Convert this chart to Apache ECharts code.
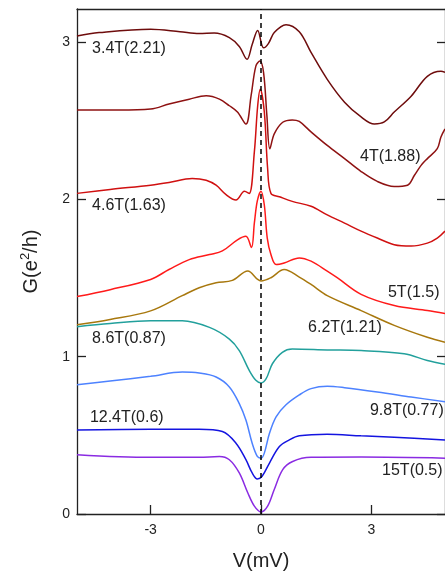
<!DOCTYPE html>
<html><head><meta charset="utf-8">
<script src="https://cdn.jsdelivr.net/npm/echarts@6/dist/echarts.min.js"></script>
<style>html,body{margin:0;padding:0;background:#fff}#c{width:445px;height:576px}</style>
</head><body><div id="c"></div>
<script>
// Curve names
const names = ['3.4T(2.21)','4T(1.88)','4.6T(1.63)','5T(1.5)','6.2T(1.21)','8.6T(0.87)','9.8T(0.77)','12.4T(0.6)','15T(0.5)'];
// Series values [V (mV), G (e^2/h)]
const c34 = [[-5.0,3.038],[-4.4,3.06],[-3.0,3.082],[-2.2,3.066],[-1.68,3.054],[-1.27,3.057],[-0.86,3.028],[-0.59,2.972],[-0.38,2.890],[-0.24,2.984],[-0.09,3.074],[0.07,2.963],[0.2,2.99],[0.36,3.060],[0.68,3.110],[1.04,3.065],[1.36,2.934],[1.8,2.763],[2.27,2.618],[2.72,2.524],[3.08,2.479],[3.35,2.492],[3.62,2.555],[4.08,2.656],[4.52,2.782],[4.89,2.814],[5.0,2.808]];
const c40 = [[-5.0,2.568],[-3.85,2.568],[-3.0,2.574],[-2.5,2.606],[-1.95,2.637],[-1.49,2.658],[-1.13,2.637],[-0.86,2.595],[-0.64,2.555],[-0.41,2.479],[-0.27,2.658],[-0.14,2.847],[-0.03,2.879],[0.07,2.806],[0.16,2.532],[0.24,2.322],[0.36,2.416],[0.59,2.490],[0.85,2.505],[1.04,2.495],[1.36,2.429],[1.8,2.343],[2.27,2.259],[2.72,2.177],[3.16,2.114],[3.62,2.082],[3.98,2.090],[4.17,2.153],[4.35,2.216],[4.52,2.259],[4.79,2.322],[4.89,2.397],[5.0,2.448]];
const c46 = [[-5.0,2.038],[-4.1,2.063],[-3.0,2.090],[-2.5,2.107],[-1.87,2.133],[-1.49,2.122],[-1.22,2.090],[-0.95,2.03],[-0.68,1.996],[-0.45,2.052],[-0.32,2.038],[-0.18,2.303],[-0.09,2.595],[-0.02,2.700],[0.09,2.555],[0.18,2.196],[0.27,2.038],[0.5,2.017],[0.85,1.987],[1.36,1.956],[1.8,1.901],[2.27,1.849],[2.72,1.798],[3.16,1.754],[3.62,1.712],[4.08,1.703],[4.52,1.722],[4.79,1.754],[5.0,1.798]];
const c50 = [[-5.0,1.382],[-4.1,1.426],[-3.0,1.491],[-2.5,1.554],[-1.95,1.617],[-1.4,1.649],[-1.05,1.672],[-0.64,1.743],[-0.41,1.765],[-0.26,1.694],[-0.18,1.85],[-0.10,1.99],[0.0,2.052],[0.09,1.964],[0.17,1.754],[0.27,1.649],[0.41,1.586],[0.63,1.596],[1.04,1.628],[1.36,1.607],[1.8,1.544],[2.07,1.502],[2.72,1.396],[3.62,1.325],[4.52,1.293],[5.0,1.274]];
const c62 = [[-5.0,1.203],[-4.1,1.237],[-3.0,1.291],[-2.14,1.388],[-1.68,1.438],[-1.22,1.470],[-0.78,1.485],[-0.36,1.544],[-0.09,1.491],[0.0,1.481],[0.27,1.502],[0.63,1.554],[1.04,1.506],[1.36,1.459],[1.8,1.388],[2.72,1.293],[3.62,1.199],[4.52,1.123],[5.0,1.091]];
const c86 = [[-5.0,1.191],[-4.1,1.211],[-3.0,1.228],[-2.14,1.228],[-1.4,1.186],[-0.86,1.112],[-0.59,1.039],[-0.32,0.913],[-0.14,0.850],[0.0,0.833],[0.14,0.860],[0.31,0.955],[0.58,1.028],[0.85,1.049],[1.8,1.043],[2.72,1.039],[3.89,1.018],[4.52,0.976],[5.0,0.951]];
const c98 = [[-5.0,0.822],[-4.1,0.845],[-3.0,0.875],[-2.14,0.902],[-1.68,0.896],[-1.22,0.871],[-0.86,0.808],[-0.59,0.702],[-0.41,0.597],[-0.24,0.450],[-0.10,0.366],[0.0,0.355],[0.09,0.387],[0.23,0.513],[0.41,0.618],[0.68,0.694],[1.04,0.757],[1.36,0.797],[1.8,0.812],[2.27,0.803],[3.16,0.776],[4.08,0.744],[5.0,0.713]];
const c124 = [[-5.0,0.534],[-3.0,0.538],[-1.68,0.538],[-1.05,0.524],[-0.68,0.450],[-0.41,0.345],[-0.24,0.261],[-0.10,0.223],[0.03,0.240],[0.23,0.324],[0.5,0.429],[0.77,0.471],[1.04,0.497],[1.8,0.507],[2.72,0.497],[3.62,0.488],[5.0,0.471]];
const c150 = [[-5.0,0.377],[-3.0,0.360],[-1.68,0.360],[-1.13,0.366],[-0.86,0.345],[-0.59,0.261],[-0.36,0.135],[-0.18,0.050],[0.0,0.013],[0.18,0.050],[0.36,0.156],[0.59,0.282],[0.86,0.334],[1.36,0.360],[2.72,0.362],[5.0,0.355]];
// Tick labels
const xTicks = [-3, 0, 3];
const yTicks = [0, 1, 2, 3];

const curves = [c34, c40, c46, c50, c62, c86, c98, c124, c150];
const colors = ['#6e0c0c','#8e1212','#d01010','#ff1a1a','#a8780e','#22a09c','#4d82ff','#1414e0','#8a2be2'];
// label anchor (data units) for each curve name
const labelPos = [[-4.59,2.96],[2.69,2.27],[-4.59,1.962],[3.45,1.407],[1.28,1.186],[-4.59,1.117],[2.96,0.656],[-4.65,0.612],[3.29,0.278]];

const font = 'Liberation Sans, Arial, sans-serif';
const series = curves.map((d, i) => ({
  type: 'line', data: d, showSymbol: false, smooth: 0.35, silent: true,
  lineStyle: { color: colors[i], width: 1.5 }, itemStyle: { color: colors[i] },
  markPoint: {
    symbol: 'circle', symbolSize: 0, silent: true,
    data: [{ coord: labelPos[i], name: names[i] }],
    label: { show: true, position: 'right', distance: 0, formatter: names[i], fontSize: 16, color: '#222', fontFamily: font }
  }
}));
series[0].markLine = {
  symbol: 'none', silent: true, label: { show: false },
  lineStyle: { color: '#000', type: [5, 4], width: 1.5 },
  data: [{ xAxis: 0 }]
};

const axisLine = { show: true, onZero: false, lineStyle: { color: '#222', width: 1.3 } };

const chart = echarts.init(document.getElementById('c'), null, { renderer: 'canvas' });
chart.setOption({
  animation: false,
  backgroundColor: '#fff',
  grid: { left: 77, right: -1, top: 9, bottom: 58 },
  xAxis: [
    {
      type: 'value', min: -5, max: 5, position: 'bottom', axisLine: axisLine, splitLine: { show: false },
      name: 'V(mV)', nameLocation: 'middle', nameGap: 37,
      nameTextStyle: { fontSize: 20, color: '#222', fontFamily: font },
      axisTick: { show: true, inside: true, length: 9, customValues: xTicks, lineStyle: { color: '#222', width: 1.3 } },
      axisLabel: { customValues: xTicks, fontSize: 14, color: '#222', margin: 9, fontFamily: font }
    },
    {
      type: 'value', min: -5, max: 5, position: 'top', axisLine: axisLine, splitLine: { show: false },
      axisTick: { show: false }, axisLabel: { show: false }
    }
  ],
  yAxis: [
    {
      type: 'value', min: 0, max: 3.21, position: 'left', axisLine: axisLine, splitLine: { show: false },
      name: '{a|G(e}{s|2}{a|/h)}', nameLocation: 'middle', nameGap: 34,
      nameTextStyle: { fontSize: 20, color: '#222', fontFamily: font,
        rich: { a: { fontSize: 20, color: '#222', fontFamily: font, lineHeight: 24 },
                s: { fontSize: 13, color: '#222', fontFamily: font, verticalAlign: 'top', lineHeight: 24, padding: [0, 0, 10, 0] } } },
      axisTick: { show: true, inside: true, length: 9, customValues: yTicks, lineStyle: { color: '#222', width: 1.3 } },
      axisLabel: { customValues: yTicks, fontSize: 14, color: '#222', margin: 7, fontFamily: font }
    },
    {
      type: 'value', min: 0, max: 3.21, position: 'right', axisLine: axisLine, splitLine: { show: false },
      axisTick: { show: true, inside: true, length: 8, customValues: yTicks, lineStyle: { color: '#222', width: 1.3 } },
      axisLabel: { show: false }
    }
  ],
  series: series
});
</script></body></html>
